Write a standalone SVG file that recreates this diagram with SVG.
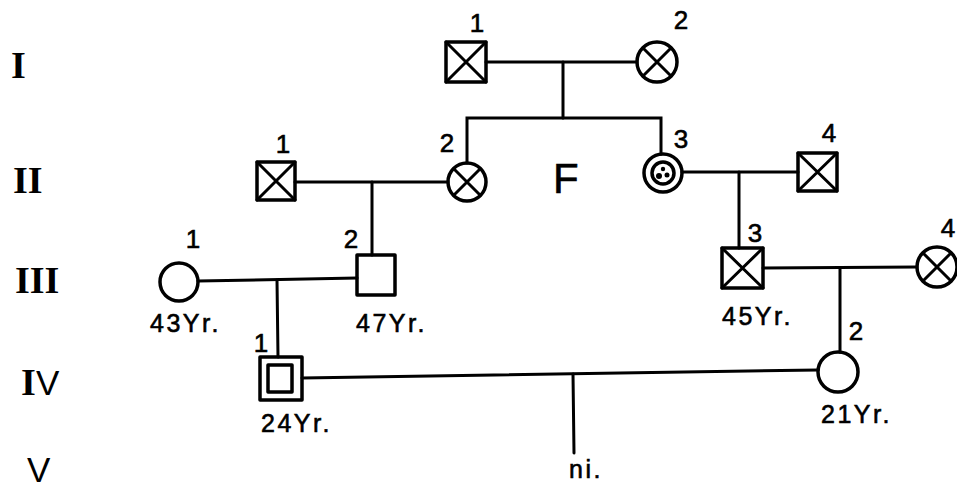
<svg xmlns="http://www.w3.org/2000/svg" width="957" height="488" viewBox="0 0 957 488">
<style>
.s{fill:none;stroke:#000;stroke-width:3.5;stroke-linejoin:round;stroke-linecap:round}
.l{fill:none;stroke:#000;stroke-width:3;stroke-linecap:round}
.n{font-family:"Liberation Sans",Arial,sans-serif;font-size:26px;fill:#000;stroke:#000;stroke-width:0.6;text-anchor:middle}
.a{font-family:"Liberation Sans",Arial,sans-serif;font-size:25px;fill:#000;stroke:#000;stroke-width:0.6;letter-spacing:2.5px}
.r{font-family:"Liberation Serif","Times New Roman",serif;font-size:38px;font-weight:bold;fill:#000}
.v{font-family:"Liberation Sans",Arial,sans-serif;font-size:35px;font-weight:normal;fill:#000}
</style>
<rect width="957" height="488" fill="#fff"/>
<g id="generations">
<text class="r" x="11" y="78">I</text>
<text class="r" x="13" y="193">II</text>
<text class="r" x="15" y="293">III</text>
<text x="21" y="395"><tspan class="r">I</tspan><tspan class="v" x="36">V</tspan></text>
<text class="v" x="27" y="482">V</text>
</g>
<g id="connectors">
<line class="l" x1="486" y1="62" x2="637" y2="62"/>
<line class="l" x1="563" y1="62" x2="563" y2="118"/>
<polyline class="l" points="467,163 467,118 661,118 661,154"/>
<line class="l" x1="295" y1="182" x2="448" y2="182"/>
<line class="l" x1="372" y1="182" x2="372" y2="255"/>
<line class="l" x1="682" y1="172" x2="798" y2="172"/>
<line class="l" x1="739" y1="172" x2="739" y2="248"/>
<line class="l" x1="198" y1="281" x2="357" y2="278"/>
<line class="l" x1="277" y1="280" x2="278" y2="357"/>
<line class="l" x1="763" y1="268" x2="917" y2="267"/>
<line class="l" x1="840" y1="268" x2="840" y2="352"/>
<line class="l" x1="302" y1="378" x2="818" y2="370"/>
<line class="l" x1="573" y1="374" x2="574" y2="453"/>
</g>
<g id="I-1"><rect class="s" x="446" y="42" width="40" height="40"/><path class="l" d="M446,42L486,82M486,42L446,82"/><text class="n" x="477" y="32">1</text></g>
<g id="I-2"><circle class="s" cx="657" cy="62" r="20"/><path class="l" d="M643,48L671,76M671,48L643,76"/><text class="n" x="681" y="29">2</text></g>
<g id="II-1"><rect class="s" x="257" y="162" width="38" height="38"/><path class="l" d="M257,162L295,200M295,162L257,200"/><text class="n" x="283" y="153">1</text></g>
<g id="II-2"><circle class="s" cx="467" cy="182" r="19"/><path class="l" d="M454,169L480,195M480,169L454,195"/><text class="n" x="447" y="152">2</text></g>
<g id="II-3"><circle class="s" cx="663" cy="173" r="19"/><circle class="s" cx="663" cy="173" r="11"/><circle cx="659" cy="176" r="3"/><circle cx="667" cy="175" r="2.5"/><circle cx="663" cy="169" r="2.2"/><text class="n" x="681" y="148">3</text></g>
<g id="II-4"><rect class="s" x="798" y="153" width="39" height="38"/><path class="l" d="M798,153L837,191M837,153L798,191"/><text class="n" x="829" y="142">4</text></g>
<g id="III-1"><circle class="s" cx="179" cy="282" r="19"/><text class="n" x="193" y="248">1</text><text class="a" x="150" y="332">43Yr.</text></g>
<g id="III-2"><rect class="s" x="357" y="255" width="38" height="40"/><text class="n" x="351" y="248">2</text><text class="a" x="356" y="332">47Yr.</text></g>
<g id="III-3"><rect class="s" x="722" y="248" width="41" height="40"/><path class="l" d="M722,248L763,288M763,248L722,288"/><text class="n" x="755" y="242">3</text><text class="a" x="722" y="325">45Yr.</text></g>
<g id="III-4"><circle class="s" cx="937" cy="267" r="20"/><path class="l" d="M923,253L951,281M951,253L923,281"/><text class="n" x="948" y="237">4</text></g>
<g id="IV-1"><rect class="s" x="260" y="357" width="42" height="43"/><rect class="s" x="268" y="365" width="24" height="27"/><text class="n" x="261" y="352">1</text><text class="a" x="261" y="432">24Yr.</text></g>
<g id="IV-2"><circle class="s" cx="838" cy="372" r="20"/><text class="n" x="856" y="340">2</text><text class="a" x="821" y="423">21Yr.</text></g>
<g id="V-1"><text class="a" x="569" y="478">ni.</text></g>
<text x="553" y="193" font-family="Liberation Sans,Arial,sans-serif" font-size="42" fill="#000" stroke="#000" stroke-width="0.6">F</text>
</svg>
